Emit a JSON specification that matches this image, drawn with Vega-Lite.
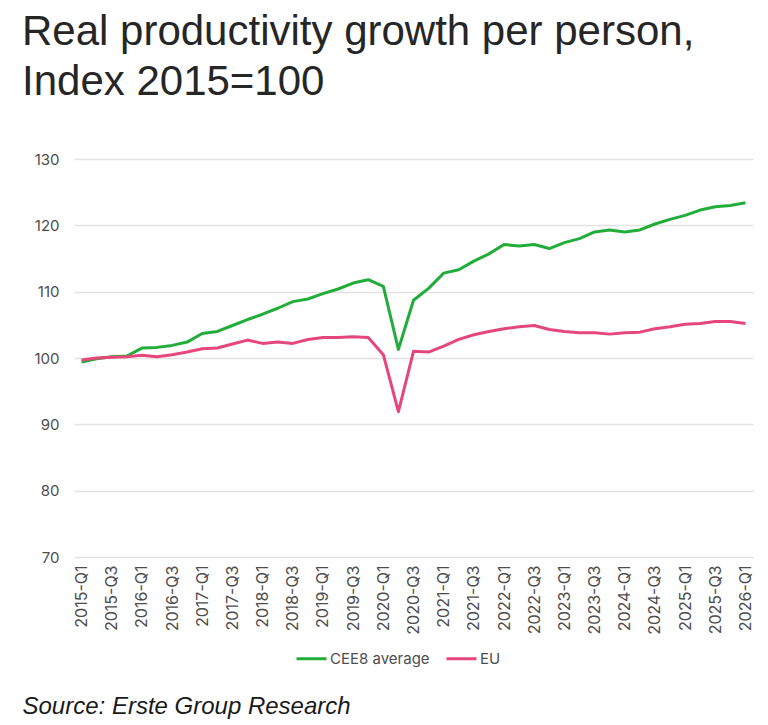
{
  "$schema": "https://vega.github.io/schema/vega-lite/v6.json",
  "width": 679,
  "height": 398,
  "autosize": {"type": "none"},
  "padding": {"left": 74, "top": 159, "right": 15, "bottom": 168},
  "background": "white",
  "title": {
    "text": ["Real productivity growth per person,", "Index 2015=100"],
    "anchor": "start",
    "frame": "group",
    "dx": -52,
    "offset": 48,
    "font": "Liberation Sans",
    "fontSize": 42,
    "fontWeight": "normal",
    "lineHeight": 50,
    "color": "#262626"
  },
  "config": {
    "view": {"stroke": null},
    "axis": {"labelFont": "Inter", "labelColor": "#4d4d4d"}
  },
  "data": {
    "values": [
      {"quarter": "2015-Q1", "series": "CEE8 average", "value": 99.4},
      {"quarter": "2015-Q2", "series": "CEE8 average", "value": 99.9},
      {"quarter": "2015-Q3", "series": "CEE8 average", "value": 100.2},
      {"quarter": "2015-Q4", "series": "CEE8 average", "value": 100.3},
      {"quarter": "2016-Q1", "series": "CEE8 average", "value": 101.5},
      {"quarter": "2016-Q2", "series": "CEE8 average", "value": 101.6},
      {"quarter": "2016-Q3", "series": "CEE8 average", "value": 101.9},
      {"quarter": "2016-Q4", "series": "CEE8 average", "value": 102.4},
      {"quarter": "2017-Q1", "series": "CEE8 average", "value": 103.7},
      {"quarter": "2017-Q2", "series": "CEE8 average", "value": 104.0},
      {"quarter": "2017-Q3", "series": "CEE8 average", "value": 104.9},
      {"quarter": "2017-Q4", "series": "CEE8 average", "value": 105.8},
      {"quarter": "2018-Q1", "series": "CEE8 average", "value": 106.6},
      {"quarter": "2018-Q2", "series": "CEE8 average", "value": 107.5},
      {"quarter": "2018-Q3", "series": "CEE8 average", "value": 108.5},
      {"quarter": "2018-Q4", "series": "CEE8 average", "value": 108.9},
      {"quarter": "2019-Q1", "series": "CEE8 average", "value": 109.7},
      {"quarter": "2019-Q2", "series": "CEE8 average", "value": 110.4},
      {"quarter": "2019-Q3", "series": "CEE8 average", "value": 111.3},
      {"quarter": "2019-Q4", "series": "CEE8 average", "value": 111.8},
      {"quarter": "2020-Q1", "series": "CEE8 average", "value": 110.8},
      {"quarter": "2020-Q2", "series": "CEE8 average", "value": 101.3},
      {"quarter": "2020-Q3", "series": "CEE8 average", "value": 108.7},
      {"quarter": "2020-Q4", "series": "CEE8 average", "value": 110.5},
      {"quarter": "2021-Q1", "series": "CEE8 average", "value": 112.8},
      {"quarter": "2021-Q2", "series": "CEE8 average", "value": 113.3},
      {"quarter": "2021-Q3", "series": "CEE8 average", "value": 114.6},
      {"quarter": "2021-Q4", "series": "CEE8 average", "value": 115.7},
      {"quarter": "2022-Q1", "series": "CEE8 average", "value": 117.1},
      {"quarter": "2022-Q2", "series": "CEE8 average", "value": 116.9},
      {"quarter": "2022-Q3", "series": "CEE8 average", "value": 117.1},
      {"quarter": "2022-Q4", "series": "CEE8 average", "value": 116.5},
      {"quarter": "2023-Q1", "series": "CEE8 average", "value": 117.4},
      {"quarter": "2023-Q2", "series": "CEE8 average", "value": 118.0},
      {"quarter": "2023-Q3", "series": "CEE8 average", "value": 119.0},
      {"quarter": "2023-Q4", "series": "CEE8 average", "value": 119.3},
      {"quarter": "2024-Q1", "series": "CEE8 average", "value": 119.0},
      {"quarter": "2024-Q2", "series": "CEE8 average", "value": 119.3},
      {"quarter": "2024-Q3", "series": "CEE8 average", "value": 120.2},
      {"quarter": "2024-Q4", "series": "CEE8 average", "value": 120.9},
      {"quarter": "2025-Q1", "series": "CEE8 average", "value": 121.5},
      {"quarter": "2025-Q2", "series": "CEE8 average", "value": 122.3},
      {"quarter": "2025-Q3", "series": "CEE8 average", "value": 122.8},
      {"quarter": "2025-Q4", "series": "CEE8 average", "value": 123.0},
      {"quarter": "2026-Q1", "series": "CEE8 average", "value": 123.4},
      {"quarter": "2015-Q1", "series": "EU", "value": 99.7},
      {"quarter": "2015-Q2", "series": "EU", "value": 100.0},
      {"quarter": "2015-Q3", "series": "EU", "value": 100.1},
      {"quarter": "2015-Q4", "series": "EU", "value": 100.2},
      {"quarter": "2016-Q1", "series": "EU", "value": 100.4},
      {"quarter": "2016-Q2", "series": "EU", "value": 100.2},
      {"quarter": "2016-Q3", "series": "EU", "value": 100.5},
      {"quarter": "2016-Q4", "series": "EU", "value": 100.9},
      {"quarter": "2017-Q1", "series": "EU", "value": 101.4},
      {"quarter": "2017-Q2", "series": "EU", "value": 101.5},
      {"quarter": "2017-Q3", "series": "EU", "value": 102.1},
      {"quarter": "2017-Q4", "series": "EU", "value": 102.7},
      {"quarter": "2018-Q1", "series": "EU", "value": 102.2},
      {"quarter": "2018-Q2", "series": "EU", "value": 102.4},
      {"quarter": "2018-Q3", "series": "EU", "value": 102.2},
      {"quarter": "2018-Q4", "series": "EU", "value": 102.8},
      {"quarter": "2019-Q1", "series": "EU", "value": 103.1},
      {"quarter": "2019-Q2", "series": "EU", "value": 103.1},
      {"quarter": "2019-Q3", "series": "EU", "value": 103.2},
      {"quarter": "2019-Q4", "series": "EU", "value": 103.1},
      {"quarter": "2020-Q1", "series": "EU", "value": 100.5},
      {"quarter": "2020-Q2", "series": "EU", "value": 91.9},
      {"quarter": "2020-Q3", "series": "EU", "value": 101.0},
      {"quarter": "2020-Q4", "series": "EU", "value": 100.9},
      {"quarter": "2021-Q1", "series": "EU", "value": 101.8},
      {"quarter": "2021-Q2", "series": "EU", "value": 102.8},
      {"quarter": "2021-Q3", "series": "EU", "value": 103.5},
      {"quarter": "2021-Q4", "series": "EU", "value": 104.0},
      {"quarter": "2022-Q1", "series": "EU", "value": 104.4},
      {"quarter": "2022-Q2", "series": "EU", "value": 104.7},
      {"quarter": "2022-Q3", "series": "EU", "value": 104.9},
      {"quarter": "2022-Q4", "series": "EU", "value": 104.3},
      {"quarter": "2023-Q1", "series": "EU", "value": 104.0},
      {"quarter": "2023-Q2", "series": "EU", "value": 103.8},
      {"quarter": "2023-Q3", "series": "EU", "value": 103.8},
      {"quarter": "2023-Q4", "series": "EU", "value": 103.6},
      {"quarter": "2024-Q1", "series": "EU", "value": 103.8},
      {"quarter": "2024-Q2", "series": "EU", "value": 103.9},
      {"quarter": "2024-Q3", "series": "EU", "value": 104.4},
      {"quarter": "2024-Q4", "series": "EU", "value": 104.7},
      {"quarter": "2025-Q1", "series": "EU", "value": 105.1},
      {"quarter": "2025-Q2", "series": "EU", "value": 105.2},
      {"quarter": "2025-Q3", "series": "EU", "value": 105.5},
      {"quarter": "2025-Q4", "series": "EU", "value": 105.5},
      {"quarter": "2026-Q1", "series": "EU", "value": 105.2}
    ]
  },
  "mark": {"type": "line", "strokeWidth": 3, "strokeJoin": "round"},
  "encoding": {
    "x": {
      "field": "quarter",
      "type": "ordinal",
      "scale": {"type": "point", "padding": 0.5},
      "axis": {
        "values": ["2015-Q1", "2015-Q3", "2016-Q1", "2016-Q3", "2017-Q1", "2017-Q3", "2018-Q1", "2018-Q3", "2019-Q1", "2019-Q3", "2020-Q1", "2020-Q3", "2021-Q1", "2021-Q3", "2022-Q1", "2022-Q3", "2023-Q1", "2023-Q3", "2024-Q1", "2024-Q3", "2025-Q1", "2025-Q3", "2026-Q1"],
        "labelAngle": -90,
        "labelFontSize": 16,
        "labelPadding": 8,
        "ticks": false,
        "domain": false,
        "grid": false,
        "title": "Source: Erste Group Research",
        "titleFont": "Liberation Sans",
        "titleFontStyle": "italic",
        "titleFontWeight": "normal",
        "titleFontSize": 24,
        "titleColor": "#1a1a1a",
        "titleAnchor": "start",
        "titleAlign": "left",
        "titleBaseline": "alphabetic",
        "titleX": -52,
        "titleY": 156
      }
    },
    "y": {
      "field": "value",
      "type": "quantitative",
      "scale": {"domain": [70, 130], "nice": false, "zero": false},
      "axis": {
        "values": [70, 80, 90, 100, 110, 120, 130],
        "title": null,
        "domain": false,
        "ticks": false,
        "grid": true,
        "gridColor": "#e2e2e2",
        "gridWidth": 1.5,
        "labelFontSize": 15,
        "labelPadding": 15
      }
    },
    "color": {
      "field": "series",
      "type": "nominal",
      "scale": {"domain": ["CEE8 average", "EU"], "range": ["#22ad3b", "#e6477a"]},
      "legend": {
        "title": null,
        "orient": "none",
        "direction": "horizontal",
        "legendX": 221,
        "legendY": 483,
        "padding": 0,
        "symbolType": "stroke",
        "symbolSize": 900,
        "symbolStrokeWidth": 3,
        "labelOffset": 2,
        "columnPadding": 10,
        "labelFont": "Inter",
        "labelFontSize": 15,
        "labelColor": "#4d4d4d"
      }
    }
  }
}
